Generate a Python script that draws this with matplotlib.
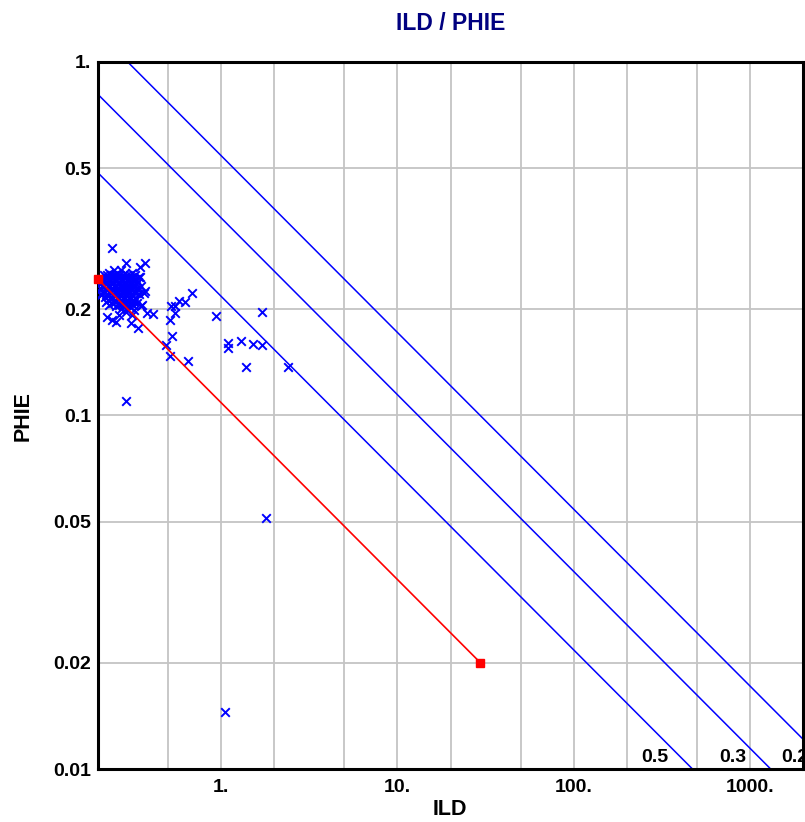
import numpy as np
import matplotlib.pyplot as plt

plt.rcParams['font.family'] = ['Liberation Sans', 'DejaVu Sans']
plt.rcParams['font.weight'] = 'bold'

# Pickett plot parameters (Archie)
a_factor = 1.0
rw = 0.0118
m_exp = 2.0
n_exp = 2.0
sw_levels = [0.5, 0.3, 0.2]
sw_labels = ['0.5', '0.3', '0.2']

# Rw line end points
rw_ild = [0.2, 29.5]
rw_phie = [0.243, 0.02]

# samples outside the main cluster
ild_pts = [0.240, 0.288, 0.347, 0.370, 0.347, 0.370, 0.350, 0.411, 0.339, 0.289,
           0.684, 0.625, 0.577, 0.550, 0.520, 0.545, 0.510, 0.525, 0.487, 0.515,
           0.649, 0.937, 1.096, 1.096, 1.299, 1.52, 1.71, 1.71, 1.387, 2.40,
           1.054, 1.80]
phie_pts = [0.298, 0.270, 0.263, 0.270, 0.246, 0.225, 0.204, 0.194, 0.177, 0.110,
            0.222, 0.209, 0.2105, 0.204, 0.204, 0.195, 0.186, 0.168, 0.158, 0.147,
            0.143, 0.191, 0.160, 0.155, 0.162, 0.159, 0.158, 0.196, 0.137, 0.137,
            0.0145, 0.0513]

# dense cluster of samples
ild_cluster = [0.247, 0.270,
               0.231, 0.256, 0.285, 0.312,
               0.216, 0.240, 0.263, 0.292, 0.325,
               0.211, 0.231, 0.250, 0.274, 0.300, 0.329,
               0.208, 0.225, 0.244, 0.263, 0.285, 0.308, 0.338,
               0.214, 0.231, 0.253, 0.277, 0.300, 0.325,
               0.206, 0.222, 0.240, 0.259, 0.281, 0.304, 0.333,
               0.216, 0.234, 0.256, 0.277, 0.296, 0.321,
               0.208, 0.225, 0.247, 0.266, 0.288, 0.312, 0.342,
               0.219, 0.237, 0.259, 0.281, 0.304,
               0.228, 0.250, 0.270, 0.292, 0.317,
               0.240, 0.263, 0.285, 0.308, 0.333,
               0.253, 0.277, 0.300,
               0.270, 0.292,
               0.247, 0.342, 0.211, 0.207, 0.221, 0.365, 0.357, 0.351,
               0.226, 0.241, 0.263, 0.252, 0.306, 0.288, 0.321, 0.379, 0.313,
               0.225, 0.253, 0.277, 0.304,
               0.222, 0.240, 0.259, 0.281, 0.312,
               0.216, 0.234, 0.253, 0.274, 0.296, 0.321,
               0.222, 0.240, 0.259, 0.281, 0.304, 0.329,
               0.214, 0.231, 0.250, 0.270, 0.292, 0.317,
               0.225, 0.244, 0.266, 0.288, 0.312, 0.338,
               0.214, 0.234, 0.256, 0.277, 0.300, 0.325,
               0.228, 0.250, 0.270, 0.292, 0.317,
               0.237, 0.259, 0.281, 0.304, 0.329,
               0.250, 0.274, 0.296, 0.321,
               0.231, 0.263, 0.288, 0.317]
phie_cluster = [0.258, 0.258,
                0.253, 0.253, 0.253, 0.253,
                0.249, 0.249, 0.249, 0.249, 0.249,
                0.244, 0.244, 0.244, 0.244, 0.244, 0.244,
                0.239, 0.239, 0.239, 0.239, 0.239, 0.239, 0.239,
                0.234, 0.234, 0.234, 0.234, 0.234, 0.234,
                0.230, 0.230, 0.230, 0.230, 0.230, 0.230, 0.230,
                0.225, 0.225, 0.225, 0.225, 0.225, 0.225,
                0.221, 0.221, 0.221, 0.221, 0.221, 0.221, 0.221,
                0.217, 0.217, 0.217, 0.217, 0.217,
                0.212, 0.212, 0.212, 0.212, 0.212,
                0.208, 0.208, 0.208, 0.208, 0.208,
                0.204, 0.204, 0.204,
                0.200, 0.200,
                0.250, 0.246, 0.242, 0.219, 0.209, 0.222, 0.205, 0.232,
                0.190, 0.186, 0.192, 0.184, 0.183, 0.196, 0.199, 0.195, 0.192,
                0.2505, 0.2505, 0.2505, 0.2505,
                0.2455, 0.2455, 0.2455, 0.2455, 0.2455,
                0.2405, 0.2405, 0.2405, 0.2405, 0.2405, 0.2405,
                0.236, 0.236, 0.236, 0.236, 0.236, 0.236,
                0.231, 0.231, 0.231, 0.231, 0.231, 0.231,
                0.2265, 0.2265, 0.2265, 0.2265, 0.2265, 0.2265,
                0.2225, 0.2225, 0.2225, 0.2225, 0.2225, 0.2225,
                0.218, 0.218, 0.218, 0.218, 0.218,
                0.214, 0.214, 0.214, 0.214, 0.214,
                0.2095, 0.2095, 0.2095, 0.2095,
                0.2055, 0.2055, 0.2055, 0.2055]

x_ticks = [1, 10, 100, 1000]
x_tick_labels = ['1.', '10.', '100.', '1000.']
y_ticks = [0.01, 0.02, 0.05, 0.1, 0.2, 0.5, 1]
y_tick_labels = ['0.01', '0.02', '0.05', '0.1', '0.2', '0.5', '1.']
x_grid = [0.5, 1, 2, 5, 10, 20, 50, 100, 200, 500, 1000]
y_grid = [0.02, 0.05, 0.1, 0.2, 0.5]

fig = plt.figure(figsize=(8.05, 8.22), dpi=100)
ax = fig.add_axes([98 / 805, 1 - 769 / 822, 705 / 805, 707 / 822])
ax.set_xscale('log')
ax.set_yscale('log')
ax.set_xlim(0.2, 2000)
ax.set_ylim(0.01, 1)

for gx in x_grid:
    ax.axvline(gx, color='#c4c4c4', lw=1.3, zorder=0)
for gy in y_grid:
    ax.axhline(gy, color='#c4c4c4', lw=1.3, zorder=0)

# water saturation lines
rt = np.array([0.2, 2000.0])
for sw, lab in zip(sw_levels, sw_labels):
    phie = (a_factor * rw / (sw ** n_exp * rt)) ** (1 / m_exp)
    ax.plot(rt, phie, color='#0000ff', lw=1.1, zorder=2)
    y_lab = 0.0108
    x_lab = a_factor * rw / (sw ** n_exp * y_lab ** m_exp)
    ax.annotate(lab, xy=(x_lab, y_lab), xytext=(-9, 0), textcoords='offset points',
                ha='right', va='center', fontsize=14, fontweight='bold',
                annotation_clip=False)

ax.scatter(ild_cluster, phie_cluster, marker='x', s=38, color='#0000ff',
           linewidths=1.4, zorder=3)
ax.scatter(ild_pts, phie_pts, marker='x', s=38, color='#0000ff',
           linewidths=1.4, zorder=3)

ax.plot(rw_ild, rw_phie, color='#ff0000', lw=1.2, marker='s', ms=6,
        zorder=4, clip_on=False)

ax.set_xticks(x_ticks)
ax.set_xticklabels(x_tick_labels)
ax.set_yticks(y_ticks)
ax.set_yticklabels(y_tick_labels)
ax.minorticks_off()
ax.tick_params(length=0, labelsize=14, pad=7)
ax.tick_params(axis='y', pad=5)
for lbl in ax.get_xticklabels() + ax.get_yticklabels():
    lbl.set_fontweight('bold')

for side in ['left', 'bottom', 'top', 'right']:
    ax.spines[side].set_linewidth(2.2)
    ax.spines[side].set_color('black')

ax.set_title('ILD / PHIE', color='#000080', fontsize=16.5, fontweight='bold', pad=23)
fig.text(450 / 805, 1 - 809 / 822, 'ILD', ha='center', va='center',
         fontsize=15.5, fontweight='bold')
fig.text(23 / 805, 1 - 416 / 822, 'PHIE', ha='center', va='center',
         rotation=90, fontsize=15.5, fontweight='bold')

fig.savefig('out.png', dpi=100)
